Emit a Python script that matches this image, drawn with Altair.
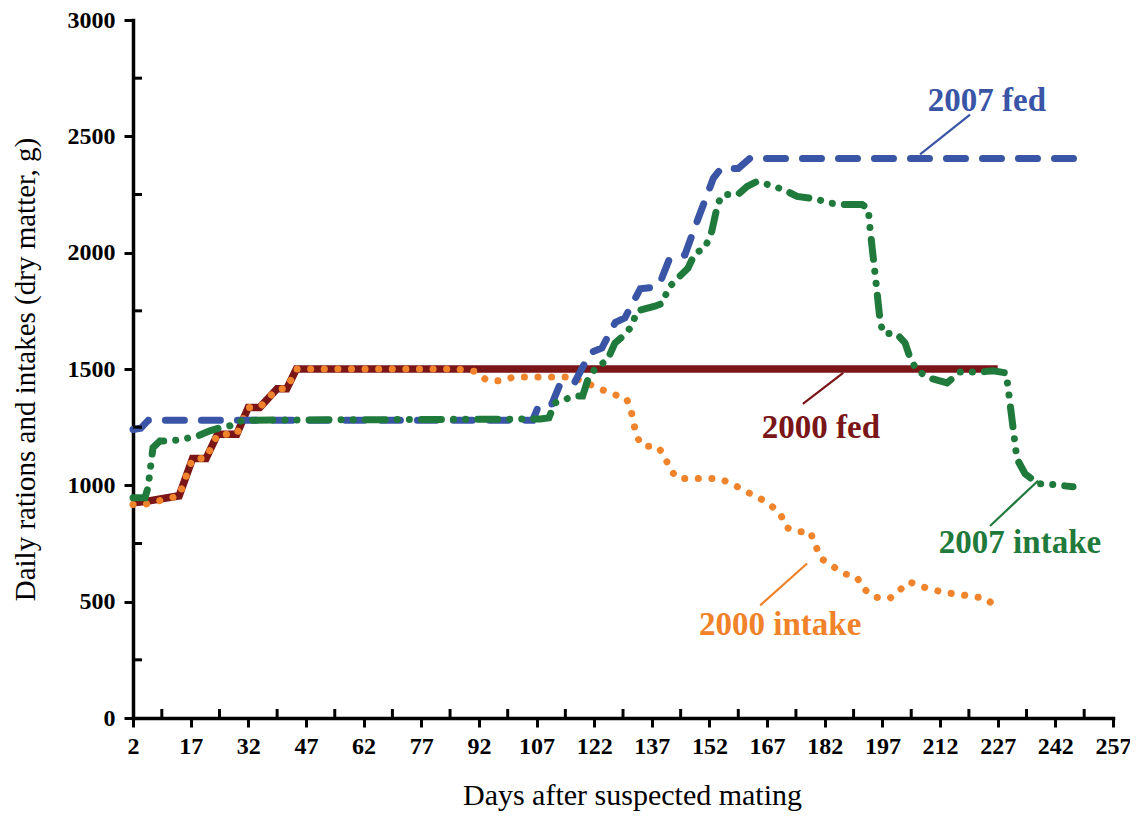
import altair as alt
import pandas as pd

# ---------------- data ----------------
fed2000_day = [2, 5, 14, 17.5, 21, 24, 29, 32, 35, 39.5, 42, 44.5, 227]
fed2000_val = [925, 930, 955, 1115, 1115, 1220, 1220, 1335, 1335, 1415, 1415, 1500, 1500]

int2000_day = [2, 5, 14, 17.5, 21, 24, 29, 32, 35, 39.5, 42, 44.5, 86, 91, 94, 98, 101, 116,
               120, 126.6, 130.3, 131.5, 133, 134.7, 138.4, 140.4, 141.5, 143.8, 154.5, 157.9,
               161.5, 164.9, 168, 170.4, 172, 174.8, 178.2, 179.5, 181, 183.4, 186.8, 190.4,
               192, 195, 199, 204, 208, 213, 218.5, 224, 226.5]
int2000_val = [918, 918, 955, 1115, 1115, 1220, 1220, 1335, 1335, 1415, 1415, 1500, 1500, 1490,
               1452, 1448, 1466, 1466, 1440, 1393, 1376, 1330, 1210, 1168, 1168, 1127, 1072,
               1029, 1029, 1007, 973, 947, 913, 879, 819, 801, 801, 745, 686, 660, 622, 604,
               557, 519, 515, 585, 561, 540, 527, 514, 476]

fed2007_day = [2, 4, 6, 106, 107.5, 111, 113, 117, 121, 124, 127.5, 130, 134, 137, 139,
               141.5, 145.6, 148, 153, 155, 159.5, 162.5, 247]
fed2007_val = [1240, 1245, 1280, 1280, 1340, 1350, 1430, 1445, 1570, 1590, 1700, 1720, 1845,
               1850, 1865, 1970, 1990, 2100, 2320, 2362, 2362, 2405, 2405]

int2007_day = [2, 5.1, 5.9, 7.2, 9, 12, 15.5, 19, 22, 24.6, 27.2, 30.6, 108, 110.2, 111.8,
               117, 119, 120.4, 122.7, 125.3, 127.4, 129.5, 131.8, 133.1, 137.8, 139.9, 141.2,
               144.3, 146.4, 148.2, 150.8, 152.6, 154.2, 155.5, 159.4, 161.8, 164.4, 167.2,
               171.1, 174.8, 178.9, 183.9, 187.3, 191.7, 193.3, 193.8, 195.1, 196.4, 197.2,
               200.8, 202.9, 204.2, 206, 209.9, 213.8, 217.2, 222.4, 225.8, 229.2, 229.7,
               230.7, 232, 234.1, 237.5, 241.4, 246.6]
int2007_val = [947, 947, 990, 1162, 1191, 1191, 1200, 1213, 1234, 1247, 1256, 1280, 1285,
               1290, 1354, 1384, 1384, 1457, 1513, 1534, 1611, 1641, 1684, 1749, 1770, 1783,
               1847, 1899, 1933, 1997, 2019, 2092, 2212, 2250, 2250, 2285, 2306, 2293, 2272,
               2242, 2233, 2212, 2207, 2207, 2190, 2100, 1907, 1706, 1654, 1650, 1612, 1548,
               1492, 1458, 1440, 1487, 1487, 1492, 1483, 1419, 1286, 1114, 1050, 1007, 1003,
               994]

x_ticks = list(range(2, 258, 15))
x_minor = [t + 7.5 for t in x_ticks[:-1]]
y_ticks = [0, 500, 1000, 1500, 2000, 2500, 3000]
y_minor = [250, 750, 1250, 1750, 2250, 2750]

label_text = ["2007 fed", "2000 fed", "2000 intake", "2007 intake"]
label_day = [224.2, 181.0, 170.4, 232.8]
label_val = [2650, 1247, 399, 754]
label_color = ["#3A55A6", "#7A1518", "#F0822A", "#1F7A3C"]
lead_day1 = [206.8, 176.3, 165.2, 225.0]
lead_val1 = [2422, 1350, 484, 825]
lead_day2 = [219.8, 186.8, 177.4, 237.5]
lead_val2 = [2593, 1483, 664, 1020]

# ---------------- chart ----------------
FONT = "Liberation Serif"
xs = alt.Scale(domain=[2, 257], nice=False, zero=False)
ys = alt.Scale(domain=[0, 3000], nice=False)

x_enc = alt.X("day:Q", scale=xs, axis=alt.Axis(
    values=x_ticks, format="d", title="Days after suspected mating", titleX=499, titleY=77,
    titleBaseline="middle", titleAlign="center", titleFontSize=30, labelFlush=False,
    labelPadding=7, labelFontSize=24))
y_enc = alt.Y("value:Q", scale=ys, axis=alt.Axis(
    values=y_ticks, format="d", title="Daily rations and intakes (dry matter, g)",
    titleX=-108, titleY=349, titleAngle=270, titleBaseline="middle", titleAlign="center",
    titleFontSize=29, labelPadding=9, labelFontSize=24, labelFlush=False))


def series(days, vals):
    return pd.DataFrame({"day": days, "value": vals})


red = alt.Chart(series(fed2000_day, fed2000_val)).mark_line(
    color="#7A1518", strokeWidth=7.5, strokeCap="butt").encode(x=x_enc, y=y_enc)
orange = alt.Chart(series(int2000_day, int2000_val)).mark_line(
    color="#F0842C", strokeWidth=7, strokeCap="round", strokeDash=[0.1, 13.5]).encode(
    x="day:Q", y="value:Q")
blue = alt.Chart(series(fed2007_day, fed2007_val)).mark_line(
    color="#3A55A6", strokeWidth=7, strokeCap="round", strokeDash=[19, 17]).encode(
    x="day:Q", y="value:Q")
green = alt.Chart(series(int2007_day, int2007_val)).mark_line(
    color="#1F7A3C", strokeWidth=7, strokeCap="round",
    strokeDash=[20, 12, 0.1, 12, 0.1, 12]).encode(x="day:Q", y="value:Q")

labels_df = pd.DataFrame({"t": label_text, "day": label_day, "value": label_val,
                          "c": label_color, "d1": lead_day1, "v1": lead_val1,
                          "d2": lead_day2, "v2": lead_val2})
leaders = alt.Chart(labels_df).mark_rule(strokeWidth=2.2).encode(
    x="d1:Q", y="v1:Q", x2="d2:Q", y2="v2:Q",
    color=alt.Color("c:N", scale=None))
texts = alt.Chart(labels_df).mark_text(
    font=FONT, fontWeight="bold", fontSize=33, align="center", baseline="middle").encode(
    x="day:Q", y="value:Q", text="t:N", color=alt.Color("c:N", scale=None))

ymin = alt.Chart(pd.DataFrame({"value": y_minor})).mark_rule(
    color="black", strokeWidth=3).encode(y="value:Q", x=alt.value(0), x2=alt.value(9))
xmin = alt.Chart(pd.DataFrame({"day": x_minor})).mark_rule(
    color="black", strokeWidth=3).encode(x="day:Q", y=alt.value(698), y2=alt.value(689))

chart = alt.layer(red, orange, blue, green, leaders, texts, ymin, xmin).properties(
    width=980, height=698,
    autosize=alt.AutoSizeParams(type="none"),
    padding={"left": 125, "top": 12, "right": 17, "bottom": 96},
).configure_view(stroke=None).configure_axis(
    grid=False, domainColor="black", domainWidth=3.5, tickColor="black",
    tickWidth=3, tickSize=9, labelFont=FONT, labelFontWeight="bold",
    labelColor="black", titleFont=FONT, titleFontWeight="normal",
    titleColor="black", domainCap="square")

chart.save("out.html", embed_options={"renderer": "svg", "actions": False})
